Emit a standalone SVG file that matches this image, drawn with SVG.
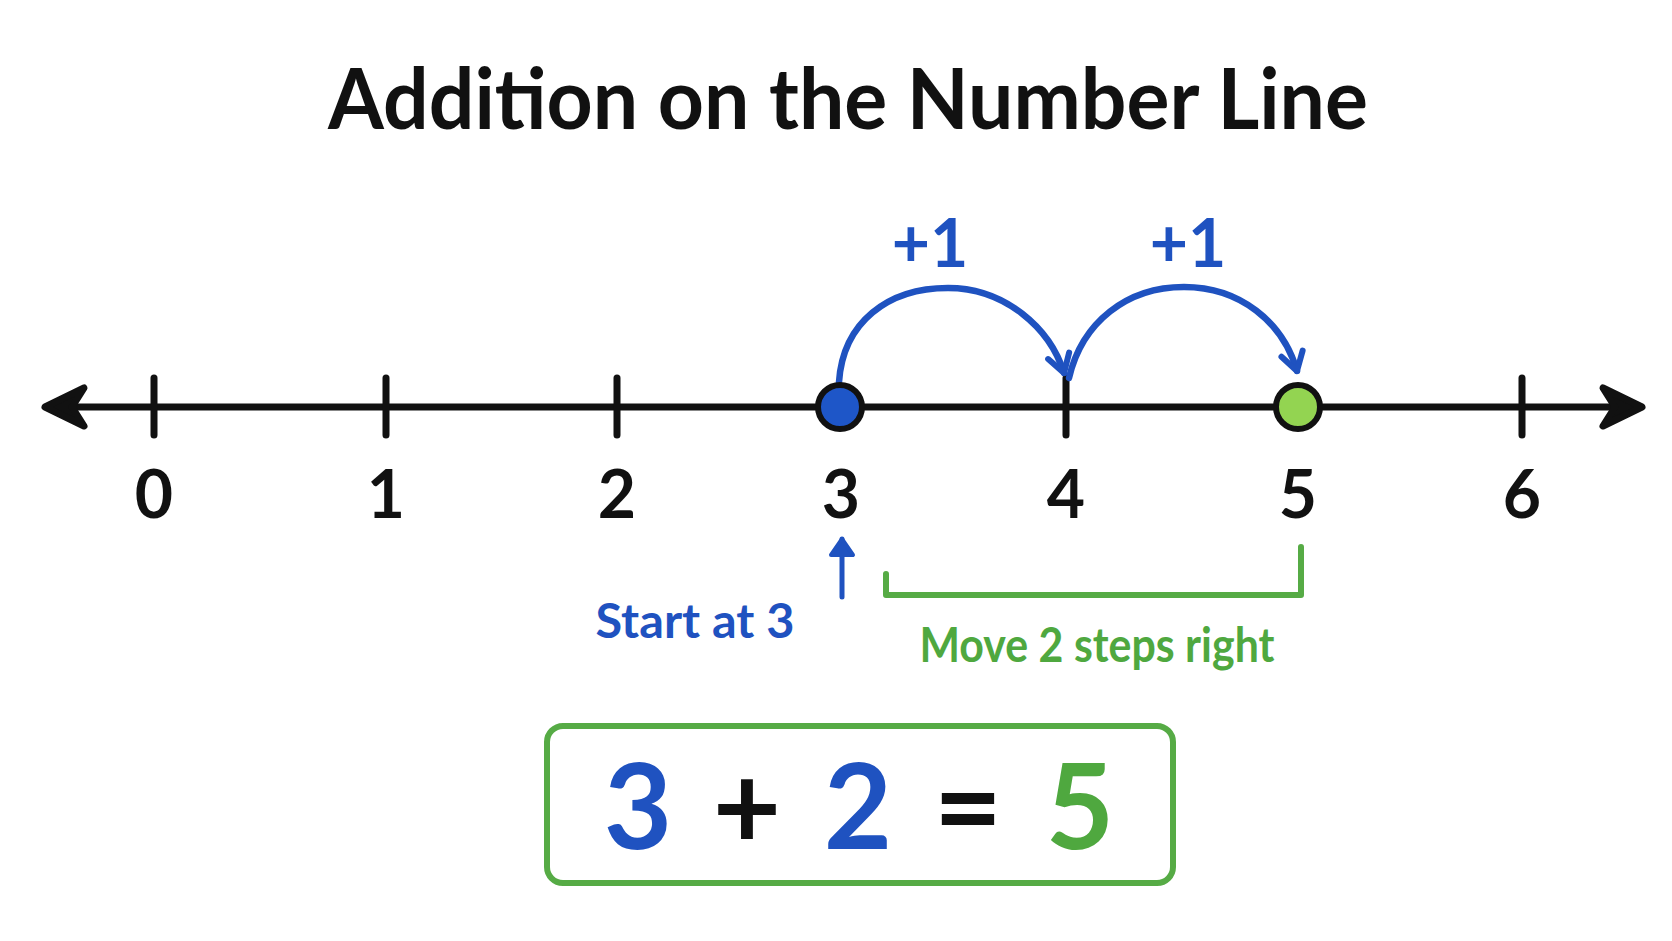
<svg xmlns="http://www.w3.org/2000/svg" width="1672" height="941" viewBox="0 0 1672 941">
<defs>
<style>
.title{font-family:"Lato","Liberation Sans",sans-serif;font-weight:700;font-size:84px;fill:#111}
.num{font-family:"Lato","Liberation Sans",sans-serif;font-weight:700;font-size:66px;fill:#111;text-anchor:middle}
.plus{font-family:"Lato","Liberation Sans",sans-serif;font-weight:700;font-size:66px;fill:#1f52c0;text-anchor:middle}
.lblb{font-family:"Lato","Liberation Sans",sans-serif;font-weight:700;font-size:47px;fill:#1f52c0;text-anchor:middle}
.lblg{font-family:"Lato","Liberation Sans",sans-serif;font-weight:700;font-size:47px;fill:#4fa83f;text-anchor:middle}
.eq{font-family:"Lato","Liberation Sans",sans-serif;font-weight:700;font-size:118px;text-anchor:middle}
.tick{stroke:#111;stroke-width:7;stroke-linecap:round}
.jump{fill:none;stroke:#1f52c0;stroke-width:6.5;stroke-linecap:round}
</style>
<marker id="chev" markerUnits="userSpaceOnUse" viewBox="-24 -16 30 32" markerWidth="30" markerHeight="32" refX="0" refY="0" orient="auto">
<path d="M -18 -11 L 0 0 L -18 11" fill="none" stroke="#1f52c0" stroke-width="6" stroke-linecap="round" stroke-linejoin="round"/>
</marker>
<marker id="up" markerUnits="userSpaceOnUse" viewBox="-20 -16 26 32" markerWidth="26" markerHeight="32" refX="0" refY="0" orient="auto">
<path d="M -16 -11 L 0 0 L -16 11 Z" fill="#1f52c0" stroke="#1f52c0" stroke-width="4" stroke-linejoin="round"/>
</marker>
</defs>
<rect width="1672" height="941" fill="#ffffff"/>
<g id="title">
<text class="title" x="328" y="129" textLength="1040" lengthAdjust="spacingAndGlyphs">Addition on the Number Line</text>
</g>
<g id="numberline">
<line x1="60" y1="407" x2="1628" y2="407" stroke="#111" stroke-width="7"/>
<path d="M 45 407 L 84 388 L 72 407 L 84 426 Z" fill="#111" stroke="#111" stroke-width="7" stroke-linejoin="round"/>
<path d="M 1642 407 L 1603 388 L 1615 407 L 1603 426 Z" fill="#111" stroke="#111" stroke-width="7" stroke-linejoin="round"/>
<line class="tick" x1="154" y1="378" x2="154" y2="435"/>
<line class="tick" x1="386" y1="378" x2="386" y2="435"/>
<line class="tick" x1="617" y1="378" x2="617" y2="435"/>
<line class="tick" x1="1066" y1="378" x2="1066" y2="435"/>
<line class="tick" x1="1522" y1="378" x2="1522" y2="435"/>
<text class="num" x="154" y="518">0</text>
<text class="num" x="386" y="518">1</text>
<text class="num" x="617" y="518">2</text>
<text class="num" x="841" y="518">3</text>
<text class="num" x="1066" y="518">4</text>
<text class="num" x="1298" y="518">5</text>
<text class="num" x="1522" y="518">6</text>
</g>
<g id="connectors">
<path class="jump" d="M 839 382 C 843 322 888 288 948 288 C 1005 288 1050 328 1064 373" marker-end="url(#chev)"/>
<path class="jump" d="M 1069 378 C 1082 322 1127 287 1184 287 C 1240 287 1283 322 1297 371" marker-end="url(#chev)"/>
<line x1="842" y1="597" x2="842" y2="539" stroke="#1f52c0" stroke-width="5" stroke-linecap="round" marker-end="url(#up)"/>
<path d="M 886 574 L 886 595 L 1301 595 L 1301 547" fill="none" stroke="#56ab45" stroke-width="6" stroke-linecap="round" stroke-linejoin="round"/>
</g>
<g id="start-point">
<circle cx="840" cy="407" r="22" fill="#1e56c8" stroke="#111" stroke-width="6"/>
</g>
<g id="end-point">
<circle cx="1298" cy="407" r="22" fill="#93d451" stroke="#111" stroke-width="6"/>
</g>
<g id="jump-labels">
<text class="plus" x="930" y="267">+1</text>
<text class="plus" x="1188" y="267">+1</text>
</g>
<g id="start-label">
<text class="lblb" x="695" y="638" textLength="199" lengthAdjust="spacingAndGlyphs">Start at 3</text>
</g>
<g id="move-label">
<text class="lblg" x="1097" y="662" textLength="355" lengthAdjust="spacingAndGlyphs">Move 2 steps right</text>
</g>
<g id="equation">
<rect x="547" y="726" width="626" height="157" rx="16" ry="16" fill="#ffffff" stroke="#56ab45" stroke-width="6"/>
<text class="eq" x="638" y="849" fill="#1f52c0">3</text>
<text class="eq" x="747" y="849" fill="#111">+</text>
<text class="eq" x="858" y="849" fill="#1f52c0">2</text>
<text class="eq" x="968" y="849" fill="#111">=</text>
<text class="eq" x="1080" y="849" fill="#4fa83f">5</text>
</g>
</svg>
